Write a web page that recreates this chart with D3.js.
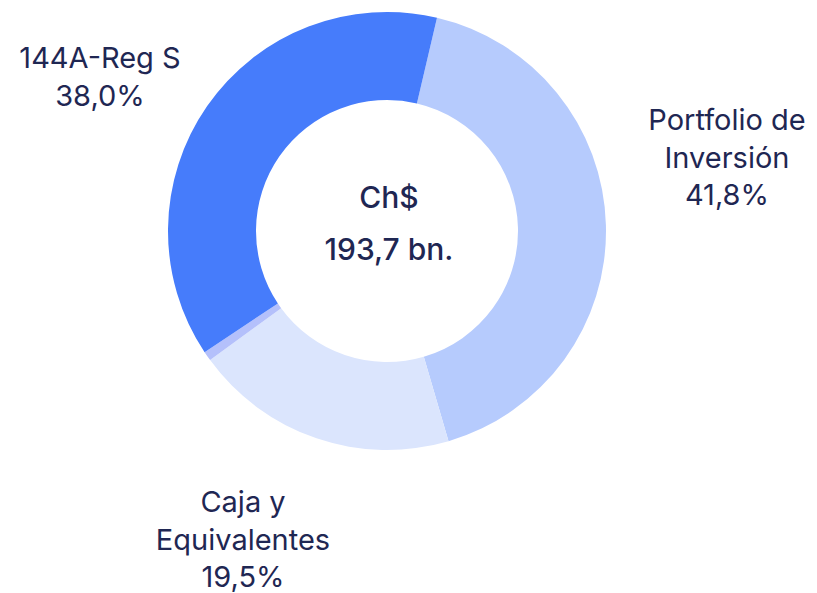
<!DOCTYPE html>
<html>
<head>
<meta charset="utf-8">
<script src="https://cdn.jsdelivr.net/npm/d3@7"></script>
<style>
  body { margin: 0; background: #fff; }
  text { font-family: Inter, 'Noto Sans', sans-serif; fill: #1f2753; }
</style>
</head>
<body>
<div id="chart"></div>
<script>
// order is clockwise starting just right of 12 o'clock
const categories = ['Portfolio de Inversión', 'Caja y Equivalentes', 'Otros', '144A-Reg S'];
const values = [41.8, 19.5, 0.7, 38.0];
const labelLines = [
    ['Portfolio de', 'Inversión', '41,8%'],
    ['Caja y', 'Equivalentes', '19,5%'],
    [],
    ['144A-Reg S', '38,0%'],
];
const centerLines = ['Ch$', '193,7 bn.'];
const colors = ['#b6cbfd', '#dbe5fd', '#b4c0fb', '#467cfb'];

const width = 817;
const height = 593;
const cx = 387;
const cy = 231;
const outerR = 219;
const innerR = 131;

const svg = d3.select('#chart').append('svg')
    .attr('width', width)
    .attr('height', height);

const g = svg.append('g')
    .attr('transform', `translate(${cx},${cy})`);

const startA = 13.2 * Math.PI / 180;
const pie = d3.pie()
    .sort(null)
    .value(d => d)
    .startAngle(startA)
    .endAngle(startA + 2 * Math.PI);

const arc = d3.arc()
    .innerRadius(innerR)
    .outerRadius(outerR);

const arcs = pie(values);

g.selectAll('path.slice')
    .data(arcs)
    .enter()
    .append('path')
    .attr('class', 'slice')
    .attr('d', arc)
    .attr('fill', (d, i) => colors[i]);

// outside label anchors (first baseline), relative to the centre
const labelPos = [
    { x: 727 - cx, y: 130 - cy },
    { x: 243 - cx, y: 512 - cy },
    null,
    { x: 100 - cx, y: 68 - cy },
];
const lineH = 37.5;

labelLines.forEach((lines, i) => {
    if (!labelPos[i]) return;
    const t = g.append('text')
        .attr('text-anchor', 'middle')
        .attr('x', labelPos[i].x)
        .attr('y', labelPos[i].y)
        .style('font-size', '29px');
    lines.forEach((l, j) => {
        t.append('tspan')
            .attr('x', labelPos[i].x)
            .attr('dy', j === 0 ? 0 : lineH)
            .text(l);
    });
});

const ct = g.append('text')
    .attr('text-anchor', 'middle')
    .attr('x', 2)
    .attr('y', 208 - cy)
    .style('font-size', '30px')
    .style('font-weight', 500);
centerLines.forEach((l, j) => {
    ct.append('tspan')
        .attr('x', 2)
        .attr('dy', j === 0 ? 0 : 52)
        .text(l);
});
</script>
</body>
</html>
